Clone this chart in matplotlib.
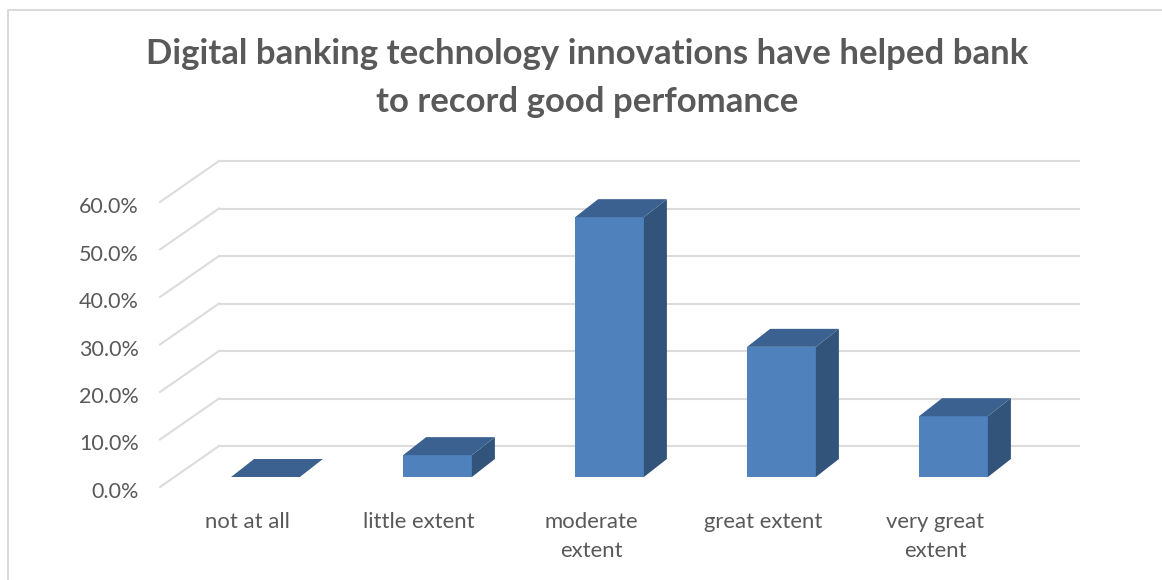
import matplotlib
matplotlib.use("Agg")
import matplotlib.pyplot as plt
from matplotlib.patches import Polygon
from matplotlib.transforms import Affine2D

plt.rcParams['font.family'] = ['Lato', 'DejaVu Sans']

categories = ["not at all", "little extent", "moderate\nextent", "great extent", "very great\nextent"]
values = [0.0, 4.6, 54.7, 27.4, 12.8]
ticks = [0, 10, 20, 30, 40, 50, 60]
tick_labels = ["0.0%", "10.0%", "20.0%", "30.0%", "40.0%", "50.0%", "60.0%"]
title = "Digital banking technology innovations have helped bank\nto record good perfomance"

W, H = 1162, 580
fig = plt.figure(figsize=(W / 100, H / 100), dpi=100, facecolor="white")
# axes occupy the back wall of the pseudo-3D chart
L, R, B, PX = 219, 1079, 446, 4.75
ax = fig.add_axes([L / W, 1 - B / H, (R - L) / W, 60 * PX / H])
ax.set_xlim(-0.5, 4.5)
ax.set_ylim(0, 60)
ax.axis("off")

def shifted(dx, dy):
    return ax.transData + Affine2D().translate(dx, -dy)

GRID = "#dcdcdc"
FRONT = (-59, 41)
for t in ticks:
    ax.plot([-0.5, 4.5], [t, t], color=GRID, lw=1.5, clip_on=False, zorder=1)
    ax.plot([-0.5, -0.5 + FRONT[0] * 5 / (R - L)], [t, t - FRONT[1] / PX],
            color=GRID, lw=1.5, clip_on=False, zorder=1)

# bars
FX, FY = -39.5, 31      # front face offset from wall (px)
DX, DY = 23, -18        # depth of bar (px)
HALF = 0.2
FACE, TOP, SIDE = "#4f81bd", "#3a6190", "#32537a"
for i, (c, v) in enumerate(zip(categories, values)):
    tr = shifted(FX, FY)
    dxd = DX * 5 / (R - L)
    dyd = -DY / PX
    x0, x1 = i - HALF, i + HALF
    if v > 0:
        ax.add_patch(Polygon([(x0, 0), (x1, 0), (x1, v), (x0, v)], closed=True, fc=FACE, ec="none",
                             transform=tr, clip_on=False, zorder=3))
        ax.add_patch(Polygon([(x1, 0), (x1 + dxd, dyd), (x1 + dxd, v + dyd), (x1, v)], closed=True,
                             fc=SIDE, ec="none", transform=tr, clip_on=False, zorder=3))
    ax.add_patch(Polygon([(x0, v), (x1, v), (x1 + dxd, v + dyd), (x0 + dxd, v + dyd)], closed=True,
                         fc=TOP, ec="none", transform=tr, clip_on=False, zorder=3))

# tick labels on the front plane
for t, lab in zip(ticks, tick_labels):
    ax.annotate(lab, xy=(-0.5, t), xycoords="data", xytext=(-80, -46),
                textcoords="offset pixels", ha="right", va="center", fontsize=15.5, color="#595959")

for i, c in enumerate(categories):
    ax.annotate(c, xy=(i, 0), xycoords="data", xytext=(-58, -66), textcoords="offset pixels",
                ha="center", va="top", fontsize=15.9, color="#595959", linespacing=1.55)

fig.text(587 / W, 1 - 78 / H, title, ha="center", va="center", fontsize=25, fontweight="bold",
         color="#595959", linespacing=1.62)

# chart frame
fig.add_artist(plt.Line2D([8 / W, 8 / W, 1], [0, 1 - 10 / H, 1 - 10 / H], color="#d9d9d9", lw=1.4,
                          transform=fig.transFigure))
fig.savefig("out.png", dpi=100)
